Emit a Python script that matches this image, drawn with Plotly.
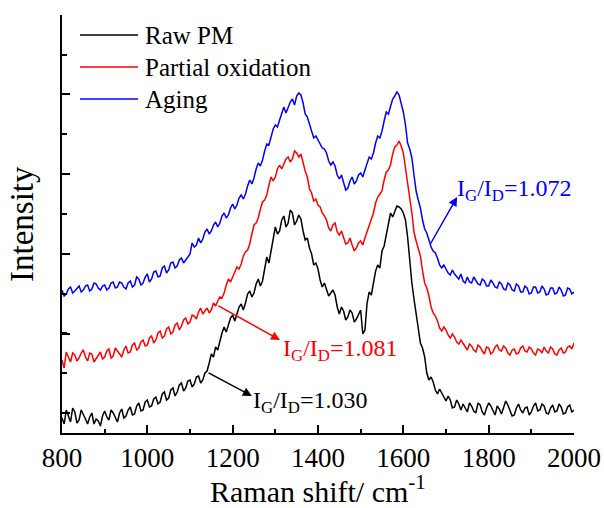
import plotly.graph_objects as go

# Raman shift (cm^-1), 800..2000 step 5
raman_shift = list(range(800, 2001, 5))

raw_pm = [
    150, 90, 230, 170, 110, 250, 210, 100, 130, 230, 190, 140, 90, 160, 200, 90, 140, 120, 70, 170,
    220, 160, 130, 230, 200, 150, 110, 200, 240, 150, 170, 230, 260, 180, 190, 270, 300, 220, 230, 310,
    330, 260, 270, 340, 360, 290, 310, 390, 410, 330, 350, 430, 450, 370, 410, 480, 500, 420, 450, 520,
    530, 460, 490, 560, 570, 500, 530, 600, 620, 700, 790, 760, 860, 830, 920, 1000, 1060, 1010, 1080, 1150,
    1180, 1120, 1190, 1260, 1290, 1230, 1300, 1390, 1420, 1360, 1400, 1490, 1540, 1470, 1520, 1640, 1760, 1700, 1820, 1960,
    2060, 1990, 2020, 2130, 2170, 2060, 2100, 2230, 2200, 2080, 2120, 2180, 2140, 2020, 1930, 1950, 1850, 1790, 1680, 1700,
    1640, 1530, 1460, 1500, 1440, 1370, 1400, 1430, 1380, 1260, 1190, 1260, 1220, 1130, 1160, 1230, 1200, 1110, 1140, 1190,
    1230, 990, 1030, 1300, 1410, 1380, 1500, 1620, 1680, 1650, 1820, 1870, 1980, 2100, 2200, 2160, 2210, 2270, 2260, 2240,
    2200, 2130, 1960, 1700, 1500, 1340, 1180, 1020, 900, 850, 760, 600, 530, 560, 510, 430, 390, 440, 400, 350,
    320, 370, 330, 250, 260, 330, 290, 230, 290, 250, 210, 300, 270, 220, 200, 300, 280, 210, 180, 250,
    300, 270, 220, 180, 270, 240, 190, 260, 320, 280, 230, 170, 180, 250, 290, 230, 200, 250, 260, 180,
    210, 270, 300, 220, 230, 290, 270, 200, 190, 250, 280, 210, 220, 290, 260, 190, 200, 260, 280, 210,
    230]

partial_oxidation = [
    730, 650, 810, 760, 710, 800, 780, 720, 750, 800, 830, 760, 720, 800, 790, 710, 740, 780, 810, 740,
    760, 820, 840, 750, 770, 850, 820, 790, 760, 830, 870, 800, 810, 880, 900, 830, 850, 910, 930, 870,
    880, 950, 970, 900, 930, 1000, 1020, 950, 970, 1040, 1060, 990, 1010, 1080, 1100, 1030, 1070, 1130, 1150, 1090,
    1110, 1180, 1170, 1140, 1210, 1250, 1190, 1220, 1250, 1200, 1230, 1300, 1270, 1320, 1360, 1350, 1400, 1480, 1540, 1510,
    1560, 1620, 1660, 1640, 1690, 1770, 1810, 1830, 1890, 1990, 2080, 2100, 2150, 2240, 2310, 2330, 2380, 2480, 2560, 2520,
    2560, 2640, 2680, 2640, 2690, 2740, 2760, 2710, 2740, 2820, 2800, 2760, 2790, 2700, 2620, 2560, 2440, 2400, 2320, 2340,
    2280, 2260, 2200, 2170, 2130, 2050, 2020, 2080, 2100, 2010, 1980, 2020, 1960, 1890, 1900, 1950, 1880, 1820, 1850, 1900,
    1920, 1880, 1950, 2010, 2090, 2130, 2200, 2300, 2360, 2390, 2420, 2530, 2610, 2630, 2680, 2790, 2860, 2880, 2920, 2870,
    2800, 2650, 2470, 2350, 2200, 2010, 1920, 1850, 1770, 1620, 1500, 1450, 1370, 1260, 1200, 1170, 1120, 1050, 1020, 1060,
    1030, 980, 950, 990, 960, 910, 890, 930, 900, 860, 830, 890, 870, 830, 810, 880, 860, 820, 790, 860,
    850, 790, 810, 860, 880, 830, 820, 870, 850, 800, 780, 830, 840, 790, 800, 850, 870, 820, 810, 860,
    840, 800, 780, 840, 830, 800, 860, 820, 800, 860, 840, 790, 780, 830, 850, 800, 810, 860, 870, 840,
    900]

aging = [
    1430, 1370, 1390, 1440, 1460, 1400, 1420, 1450, 1470, 1410, 1430, 1470, 1480, 1420, 1440, 1500, 1490, 1450, 1430, 1470,
    1480, 1430, 1450, 1500, 1510, 1450, 1460, 1510, 1500, 1460, 1440, 1500, 1520, 1460, 1480, 1560, 1540, 1480, 1500, 1560,
    1590, 1510, 1540, 1610, 1620, 1560, 1570, 1650, 1670, 1600, 1630, 1700, 1710, 1650, 1670, 1730, 1750, 1700, 1730, 1770,
    1790, 1900, 1860, 1880, 1950, 1900, 1940, 2010, 2040, 1990, 2020, 2080, 2110, 2060, 2100, 2170, 2200, 2150, 2180, 2250,
    2290, 2240, 2280, 2350, 2380, 2340, 2390, 2470, 2530, 2490, 2550, 2640, 2700, 2670, 2730, 2820, 2890, 2880, 2950, 3040,
    3080, 3060, 3130, 3200, 3260, 3200, 3250, 3310, 3340, 3280, 3370, 3400, 3380, 3300, 3190, 3160, 3090, 3020, 2950, 2970,
    2930, 2880, 2850, 2840, 2800, 2720, 2680, 2710, 2670, 2580, 2540, 2580, 2500, 2430, 2450, 2520, 2560, 2490, 2520, 2580,
    2600, 2560, 2630, 2700, 2760, 2740, 2800, 2900, 2970, 2950, 3020, 3120, 3210, 3190, 3260, 3340, 3370, 3410, 3380, 3300,
    3210, 3080, 2900, 2840, 2750, 2580, 2420, 2330, 2250, 2130, 2040, 2000, 1930, 1860, 1820, 1800, 1750, 1680, 1650, 1680,
    1640, 1600, 1580, 1630, 1590, 1560, 1540, 1590, 1520, 1500, 1560, 1510, 1500, 1560, 1530, 1490, 1480, 1540, 1520, 1470,
    1470, 1530, 1500, 1460, 1450, 1510, 1490, 1440, 1430, 1500, 1480, 1430, 1420, 1490, 1470, 1410, 1410, 1470, 1450, 1390,
    1400, 1460, 1460, 1400, 1410, 1470, 1440, 1380, 1390, 1450, 1450, 1390, 1400, 1460, 1430, 1370, 1380, 1450, 1440, 1390,
    1410]

series_names = ["Raw PM", "Partial oxidation", "Aging"]
series_colors = ["#000000", "#ff0000", "#0000ff"]
series_values = [raw_pm, partial_oxidation, aging]

x_tick_vals = [800, 1000, 1200, 1400, 1600, 1800, 2000]
x_tick_text = ["800", "1000", "1200", "1400", "1600", "1800", "2000"]

ratio_labels = ["I<sub>G</sub>/I<sub>D</sub>=1.030",
                "I<sub>G</sub>/I<sub>D</sub>=1.081",
                "I<sub>G</sub>/I<sub>D</sub>=1.072"]

FONT = "Liberation Serif, Times New Roman, serif"

fig = go.Figure()
for name, color, vals in zip(series_names, series_colors, series_values):
    fig.add_trace(go.Scatter(x=raman_shift, y=vals, mode="lines", name=name,
                             line=dict(color=color, width=1.5), showlegend=False))

# arrows: (head x, head y, tail x, tail y)
arrows = [
    (1245, 370, 1140, 610, "#000000"),
    (1311, 930, 1163, 1280, "#ff0000"),
    (1726, 2360, 1662, 1880, "#0000ff"),
]
for hx, hy, tx, ty, c in arrows:
    fig.add_annotation(x=hx, y=hy, ax=tx, ay=ty, xref="x", yref="y", axref="x", ayref="y",
                       text="", showarrow=True, arrowhead=2, arrowsize=1.2,
                       arrowwidth=1.5, arrowcolor=c)

label_pos = [(1243, 310), (1313, 830), (1721, 2430)]
for (lx, ly), txt, c in zip(label_pos, ratio_labels, series_colors):
    fig.add_annotation(x=lx, y=ly, xref="x", yref="y", text=txt, showarrow=False,
                       xanchor="left", yanchor="middle",
                       font=dict(family=FONT, size=24, color=c))

# manual legend
leg_y = [35, 67, 99]
for yy, name, color in zip(leg_y, series_names, series_colors):
    fig.add_shape(type="line", xref="paper", yref="paper",
                  x0=(80 - 62) / 512, x1=(138 - 62) / 512,
                  y0=(433 - yy) / 418, y1=(433 - yy) / 418,
                  line=dict(color=color, width=1.5))
    fig.add_annotation(x=(143 - 62) / 512, y=(433 - yy) / 418, xref="paper", yref="paper",
                       text=name, showarrow=False, xanchor="left", yanchor="middle",
                       font=dict(family=FONT, size=25, color="#000000"))

# axis titles
fig.add_annotation(x=0.5, y=0, xref="paper", yref="paper", yshift=-56,
                   text="Raman shift/ cm<sup>-1</sup>", showarrow=False,
                   xanchor="center", yanchor="middle",
                   font=dict(family=FONT, size=30, color="#000000"))
fig.add_annotation(x=0, y=0.5, xref="paper", yref="paper", xshift=-40,
                   text="Intensity", showarrow=False, textangle=-90,
                   xanchor="center", yanchor="middle",
                   font=dict(family=FONT, size=33, color="#000000"))

fig.update_layout(
    width=604, height=508, autosize=False,
    margin=dict(l=62, r=30, t=15, b=75),
    paper_bgcolor="white", plot_bgcolor="white",
    font=dict(family=FONT, color="#000000"),
)
fig.update_xaxes(range=[800, 2000], automargin=False, showline=True, linecolor="black", linewidth=1.5,
                 ticks="inside", ticklen=8, tickwidth=1.5, tickcolor="black",
                 tickvals=x_tick_vals, ticktext=x_tick_text,
                 tickfont=dict(family=FONT, size=27, color="black"),
                 minor=dict(ticks="inside", ticklen=4, tickwidth=1.5, tickcolor="black", dtick=100, tick0=800),
                 showgrid=False, zeroline=False, mirror=False)
fig.update_yaxes(range=[0, 4180], automargin=False, showline=True, linecolor="black", linewidth=1.5,
                 ticks="inside", ticklen=8, tickwidth=1.5, tickcolor="black",
                 tick0=995, dtick=797, showticklabels=False,
                 minor=dict(ticks="inside", ticklen=5, tickwidth=1.5, tickcolor="black", dtick=398.5, tick0=597),
                 showgrid=False, zeroline=False, mirror=False)

fig.write_html("out.html",
               config={"displayModeBar": False, "responsive": False},
               post_script="document.body.style.margin='0';document.body.style.overflow='hidden';")
